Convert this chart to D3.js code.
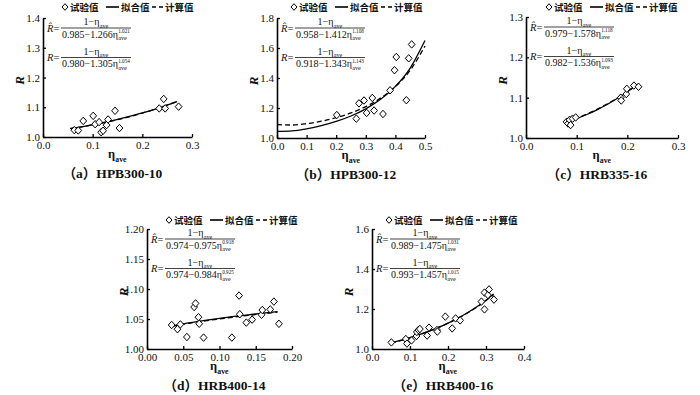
<!DOCTYPE html>
<html><head><meta charset="utf-8">
<script src="https://cdn.jsdelivr.net/npm/d3@7"></script>
<style>body{margin:0;background:#fff}svg{display:block}</style>
</head><body>
<svg id="c" width="700" height="395"></svg>
<script>
// ---------- data ----------
const legendLabels = ["试验值", "拟合值", "计算值"];
const captions = ["（a）HPB300-10", "（b）HPB300-12", "（c）HRB335-16", "（d）HRB400-14", "（e）HRB400-16"];

// (a) HPB300-10
const expA_eta = [0.063,0.071,0.081,0.101,0.105,0.113,0.117,0.121,0.128,0.131,0.145,0.154,0.234,0.243,0.246,0.273];
const expA_R   = [1.023,1.022,1.054,1.071,1.043,1.050,1.016,1.021,1.040,1.059,1.088,1.030,1.096,1.128,1.096,1.102];
const curveA_eta  = [0.055,0.08,0.10,0.12,0.14,0.16,0.18,0.20,0.22,0.24,0.27];
const curveA_fit  = [1.0278,1.0349,1.0412,1.0479,1.0553,1.0632,1.0717,1.0808,1.0907,1.1013,1.119];
const curveA_calc = [1.0287,1.0350,1.0407,1.0472,1.0543,1.0622,1.0707,1.0801,1.0903,1.1014,1.120];
const coefA_fit  = ["0.985","1.266","1.021"];
const coefA_calc = ["0.980","1.305","1.054"];
const xTicksA = [0, 0.1, 0.2, 0.3];
const yTicksA = [1.0, 1.1, 1.2, 1.3, 1.4];

// (b) HPB300-12
const expB_eta = [0.202,0.268,0.277,0.294,0.303,0.322,0.328,0.358,0.382,0.397,0.403,0.437,0.445,0.455];
const expB_R   = [1.153,1.129,1.231,1.250,1.167,1.267,1.183,1.160,1.318,1.452,1.540,1.252,1.531,1.624];
const curveB_eta  = [0,0.05,0.10,0.15,0.20,0.25,0.30,0.35,0.40,0.45,0.50];
const curveB_fit  = [1.0438,1.0475,1.0615,1.0822,1.1101,1.1466,1.1944,1.2578,1.3439,1.4664,1.650];
const curveB_calc = [1.0893,1.0866,1.0957,1.1120,1.1353,1.1671,1.2093,1.2659,1.3430,1.4516,1.613];
const coefB_fit  = ["0.958","1.412","1.108"];
const coefB_calc = ["0.918","1.343","1.143"];
const xTicksB = [0, 0.1, 0.2, 0.3, 0.4, 0.5];
const yTicksB = [1.0, 1.2, 1.4, 1.6, 1.8];

// (c) HRB335-16
const expC_eta = [0.080,0.083,0.086,0.088,0.092,0.098,0.187,0.188,0.198,0.199,0.213,0.222];
const expC_R   = [1.040,1.036,1.045,1.032,1.048,1.051,1.100,1.093,1.109,1.122,1.130,1.127];
const curveC_eta  = [0.08,0.10,0.12,0.14,0.16,0.18,0.20,0.22];
const curveC_fit  = [1.0392,1.0480,1.0582,1.0699,1.0830,1.0978,1.1142,1.1326];
const curveC_calc = [1.0397,1.0489,1.0594,1.0711,1.0842,1.0988,1.1149,1.1330];
const coefC_fit  = ["0.979","1.578","1.118"];
const coefC_calc = ["0.982","1.536","1.093"];
const xTicksC = [0, 0.1, 0.2, 0.3];
const yTicksC = [1.0, 1.1, 1.2, 1.3];

// (d) HRB400-14
const expD_eta = [0.034,0.042,0.046,0.055,0.065,0.067,0.071,0.072,0.078,0.117,0.127,0.128,0.137,0.145,0.158,0.159,0.170,0.175,0.182];
const expD_R   = [1.040,1.033,1.041,1.020,1.070,1.076,1.053,1.042,1.019,1.019,1.089,1.058,1.044,1.049,1.057,1.065,1.066,1.079,1.042];
const curveD_eta  = [0.035,0.06,0.08,0.10,0.12,0.14,0.16,0.18];
const curveD_fit  = [1.0387,1.0441,1.0478,1.0511,1.0542,1.0570,1.0597,1.0622];
const curveD_calc = [1.0379,1.0432,1.0468,1.0501,1.0532,1.0561,1.0588,1.0614];
const coefD_fit  = ["0.974","0.975","0.918"];
const coefD_calc = ["0.974","0.984","0.925"];
const xTicksD = [0, 0.05, 0.10, 0.15, 0.20];
const yTicksD = [1.00, 1.05, 1.10, 1.15, 1.20];

// (e) HRB400-16
const expE_eta = [0.051,0.089,0.092,0.104,0.117,0.118,0.122,0.126,0.145,0.150,0.171,0.172,0.193,0.211,0.220,0.232,0.288,0.296,0.296,0.305,0.308,0.321];
const expE_R   = [1.033,1.050,1.027,1.043,1.065,1.085,1.095,1.100,1.067,1.107,1.095,1.087,1.162,1.103,1.153,1.143,1.237,1.282,1.198,1.270,1.298,1.247];
const curveE_eta  = [0.05,0.08,0.10,0.12,0.15,0.18,0.21,0.24,0.27,0.30,0.32];
const curveE_fit  = [1.0306,1.0456,1.0568,1.0689,1.0893,1.1123,1.1385,1.1686,1.2035,1.2441,1.2749];
const curveE_calc = [1.0289,1.0445,1.0561,1.0684,1.0890,1.1121,1.1382,1.1679,1.2022,1.2418,1.2718];
const coefE_fit  = ["0.989","1.475","1.031"];
const coefE_calc = ["0.993","1.457","1.015"];
const xTicksE = [0, 0.1, 0.2, 0.3, 0.4];
const yTicksE = [1.0, 1.2, 1.4, 1.6];

// ---------- drawing ----------
const svg = d3.select("#c");
const SERIF = "'Liberation Serif','Times New Roman',Tinos,'Noto Sans CJK SC',serif";
const CJK = "'Noto Sans CJK SC',sans-serif";

const diamondType = { draw(ctx, size) { const h = Math.sqrt(size) / 2;
  ctx.moveTo(0, -h); ctx.lineTo(h * 0.9, 0); ctx.lineTo(0, h); ctx.lineTo(-h * 0.9, 0); ctx.closePath(); } };

function drawLegend(L, yb) {
  const g = svg.append("g");
  g.append("path").attr("d", d3.symbol(diamondType, 44)()).attr("transform", `translate(${L + 2},${yb - 4})`)
    .attr("fill", "#fff").attr("stroke", "#000").attr("stroke-width", 1);
  const t = (x, s) => g.append("text").attr("x", x).attr("y", yb).attr("font-family", CJK)
    .attr("font-size", 9.5).attr("font-weight", 700).attr("fill", "#111").text(s);
  t(L + 7, legendLabels[0]);
  g.append("line").attr("x1", L + 43).attr("x2", L + 56).attr("y1", yb - 4).attr("y2", yb - 4).attr("stroke", "#000").attr("stroke-width", 1.6);
  t(L + 58, legendLabels[1]);
  g.append("line").attr("x1", L + 89).attr("x2", L + 100).attr("y1", yb - 4).attr("y2", yb - 4).attr("stroke", "#000").attr("stroke-width", 1.6).attr("stroke-dasharray", "4,3");
  t(L + 102, legendLabels[2]);
}

// one <text> : main + stacked subscript "ave" and optional superscript
function drawEta(g, x, yb, main, fs, opts) {
  opts = opts || {};
  const t = g.append("text").attr("x", x).attr("y", yb).attr("font-family", SERIF).attr("font-size", fs)
    .attr("font-weight", opts.bold ? 700 : 400).attr("fill", "#111");
  const m = t.append("tspan").text(main);
  const w = m.node().getComputedTextLength();
  t.append("tspan").attr("x", x + w + 0.3).attr("y", yb + fs * 0.28).attr("font-size", fs * 0.62).text("ave");
  if (opts.sup) {
    t.append("tspan").attr("x", x + w + 0.3).attr("y", yb - fs * 0.42).attr("font-size", fs * 0.52)
      .attr("font-weight", 400).text(opts.sup);
  }
  return t;
}

function drawFraction(g, xL, yLine, width, coef, hat, lx) {
  const lhs = g.append("text").attr("x", lx).attr("y", yLine + 3.8).attr("font-family", SERIF).attr("font-size", 10.5)
    .attr("fill", "#111");
  lhs.append("tspan").attr("font-style", "italic").text(hat ? "R\u0302" : "R");
  lhs.append("tspan").text("=");
  // numerator
  const num = drawEta(g, 0, yLine - 3, "1−η", 10, {});
  const bw = num.node().getBBox().width;
  num.attr("transform", `translate(${xL + width / 2 - bw / 2},0)`);
  g.append("line").attr("x1", xL).attr("x2", xL + width).attr("y1", yLine).attr("y2", yLine)
    .attr("stroke", "#111").attr("stroke-width", 0.8);
  drawEta(g, xL + 1, yLine + 9.5, coef[0] + "−" + coef[1] + "η", 10, { sup: coef[2] });
}

function drawPanel(p) {
  const g = svg.append("g");
  const x = d3.scaleLinear().domain([p.xTicks[0], p.xTicks[p.xTicks.length - 1]]).range([p.x0, p.x1]);
  const y = d3.scaleLinear().domain([p.yTicks[0], p.yTicks[p.yTicks.length - 1]]).range([p.yb, p.yt]);
  const fmt = d3.format(p.fmt);

  const xa = g.append("g").attr("transform", `translate(0,${p.yb})`)
    .call(d3.axisBottom(x).tickValues(p.xTicks).tickFormat(fmt).tickSizeInner(-3).tickSizeOuter(0).tickPadding(4));
  const ya = g.append("g").attr("transform", `translate(${p.x0},0)`)
    .call(d3.axisLeft(y).tickValues(p.yTicks).tickFormat(fmt).tickSizeInner(-3).tickSizeOuter(0).tickPadding(3));
  [xa, ya].forEach(a => {
    a.select(".domain").attr("stroke", "#000").attr("stroke-width", 1.6);
    a.selectAll(".tick line").attr("stroke", "#000").attr("stroke-width", 1.3);
    a.selectAll("text").attr("font-family", SERIF).attr("font-size", 11).attr("fill", "#111");
  });

  // curves
  const line = d3.line().curve(d3.curveMonotoneX);
  const fitPts = p.cEta.map((e, i) => [x(e), y(p.cFit[i])]);
  const calcPts = p.cEta.map((e, i) => [x(e), y(p.cCalc[i])]);
  g.append("path").attr("d", line(fitPts)).attr("fill", "none").attr("stroke", "#000").attr("stroke-width", 1.3);
  g.append("path").attr("d", line(calcPts)).attr("fill", "none").attr("stroke", "#000").attr("stroke-width", 1.3)
    .attr("stroke-dasharray", "5,3");

  // points
  g.selectAll(".pt").data(p.eEta.map((e, i) => [e, p.eR[i]])).join("path")
    .attr("d", d3.symbol(diamondType, 56)())
    .attr("transform", d => `translate(${x(d[0])},${y(d[1])})`)
    .attr("fill", "#fff").attr("stroke", "#000").attr("stroke-width", 1);

  // formulas
  const lx = p.x0 + 4, xL = p.x0 + 18;
  drawFraction(g, xL, p.yt + 10, 70, p.coefFit, true, lx);
  drawFraction(g, xL, p.yt + 39.5, 70, p.coefCalc, false, lx);

  // axis titles
  g.append("text").attr("transform", `translate(${p.x0 - 19},${(p.yb + p.yt) / 2 + 3}) rotate(-90)`)
    .attr("text-anchor", "middle").attr("font-family", SERIF).attr("font-size", 13).attr("font-style", "italic")
    .attr("font-weight", 700).attr("fill", "#111").text("R");
  const xl = drawEta(g, 0, p.yb + 21, "η", 12.5, { bold: true });
  const xw = xl.node().getBBox().width;
  xl.attr("transform", `translate(${(p.x0 + p.x1) / 2 - xw / 2},0)`);

  // caption
  g.append("text").attr("x", (p.x0 + p.x1) / 2 - 5).attr("y", p.yb + 41).attr("text-anchor", "middle")
    .attr("font-family", SERIF).attr("font-size", 13.5).attr("font-weight", 700).attr("fill", "#111").text(p.caption);

  drawLegend(p.legX, p.legY);
}

drawPanel({ x0: 43, x1: 192, yb: 137, yt: 18, fmt: ".1f", xTicks: xTicksA, yTicks: yTicksA,
  eEta: expA_eta, eR: expA_R, cEta: curveA_eta, cFit: curveA_fit, cCalc: curveA_calc,
  coefFit: coefA_fit, coefCalc: coefA_calc, caption: captions[0], legX: 63, legY: 11 });
drawPanel({ x0: 277, x1: 425, yb: 138, yt: 18, fmt: ".1f", xTicks: xTicksB, yTicks: yTicksB,
  eEta: expB_eta, eR: expB_R, cEta: curveB_eta, cFit: curveB_fit, cCalc: curveB_calc,
  coefFit: coefB_fit, coefCalc: coefB_calc, caption: captions[1], legX: 292, legY: 11 });
drawPanel({ x0: 526, x1: 678, yb: 138, yt: 17, fmt: ".1f", xTicks: xTicksC, yTicks: yTicksC,
  eEta: expC_eta, eR: expC_R, cEta: curveC_eta, cFit: curveC_fit, cCalc: curveC_calc,
  coefFit: coefC_fit, coefCalc: coefC_calc, caption: captions[2], legX: 547, legY: 11 });
drawPanel({ x0: 147, x1: 292, yb: 349, yt: 229, fmt: ".2f", xTicks: xTicksD, yTicks: yTicksD,
  eEta: expD_eta, eR: expD_R, cEta: curveD_eta, cFit: curveD_fit, cCalc: curveD_calc,
  coefFit: coefD_fit, coefCalc: coefD_calc, caption: captions[3], legX: 167, legY: 224 });
drawPanel({ x0: 372, x1: 524, yb: 349, yt: 229, fmt: ".1f", xTicks: xTicksE, yTicks: yTicksE,
  eEta: expE_eta, eR: expE_R, cEta: curveE_eta, cFit: curveE_fit, cCalc: curveE_calc,
  coefFit: coefE_fit, coefCalc: coefE_calc, caption: captions[4], legX: 387, legY: 224 });
</script>
</body></html>
